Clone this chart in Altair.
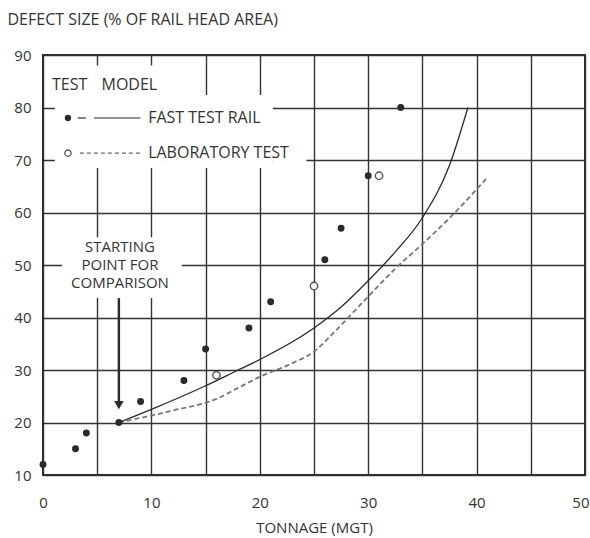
import altair as alt
import pandas as pd

FONT = "Open Sans"
INK = "#2a2a2a"

# Measured test points
fast_x = [0, 3, 4, 7, 9, 13, 15, 19, 21, 26, 27.5, 30, 33]
fast_y = [12, 15, 18, 20, 24, 28, 34, 38, 43, 51, 57, 67, 80]
lab_x = [16, 25, 31]
lab_y = [29, 46, 67]

# Model curves
fast_model_x = [7, 10, 15, 18, 20, 25, 27.5, 30, 32.5, 35, 37.5, 39.2]
fast_model_y = [20, 22.5, 27, 30, 32, 38, 42, 47, 52.5, 59, 69, 80]
lab_model_x = [7, 12, 16, 18, 20, 23, 25, 27, 30, 32.5, 35, 38, 41]
lab_model_y = [20, 22.3, 24.5, 26.6, 28.7, 31.3, 33.5, 37.5, 44, 49.3, 54, 60, 66.7]

x_ticks = list(range(0, 51, 5))
y_ticks = list(range(10, 91, 10))

fast_pts = pd.DataFrame({"x": fast_x, "y": fast_y})
lab_pts = pd.DataFrame({"x": lab_x, "y": lab_y})
fast_line = pd.DataFrame({"x": fast_model_x, "y": fast_model_y})
lab_line = pd.DataFrame({"x": lab_model_x, "y": lab_model_y})

xs = alt.Scale(domain=[0, 50], nice=False, zero=False)
ys = alt.Scale(domain=[10, 90], nice=False, zero=False)

X = alt.X("x:Q", scale=xs, axis=alt.Axis(
    values=x_ticks, labelExpr="datum.value % 10 == 0 ? datum.label : ''",
    tickSize=0, domain=False, grid=True, gridColor="#333", gridWidth=1.4,
    labelPadding=20, labelFontSize=15, labelFont=FONT, labelColor="#333",
    labelFlush=False,
    labelAlign={"condition": {"test": "datum.value == 50", "value": "right"}, "value": "center"},
    labelOffset={"condition": {"test": "datum.value == 50", "value": 4}, "value": 0},
    title="TONNAGE (MGT)", titleFont=FONT, titleFontSize=15,
    titleFontWeight="normal", titleColor="#333", titleY=52, titleBaseline="middle"))
Y = alt.Y("y:Q", scale=ys, axis=alt.Axis(
    values=y_ticks, tickSize=0, domain=False, grid=True, gridColor="#333",
    gridWidth=1.4, labelPadding=12, labelFontSize=15, labelFont=FONT,
    labelColor="#333", labelFlush=False,
    title="DEFECT SIZE  (% OF RAIL HEAD AREA)", titleAngle=0, titleAlign="left",
    titleBaseline="middle", titleX=-36, titleY=-36, titleFont=FONT,
    titleFontSize=16, titleFontWeight="normal", titleColor="#333"))

# White masks behind the legend and annotation text (gridlines broken there)
mask_x = [1.1, 11.0, 21.2, 1.75]
mask_x2 = [11.0, 21.2, 24.3, 12.8]
mask_y = [68.5, 68.5, 68.5, 43.7]
mask_y2 = [88.0, 82.4, 75.0, 55.3]
masks = pd.DataFrame({"x": mask_x, "x2": mask_x2, "y": mask_y, "y2": mask_y2})

mask_layer = alt.Chart(masks).mark_rect(fill="white", strokeWidth=0).encode(
    x=X, x2="x2:Q", y=Y, y2="y2:Q")

fast_model = alt.Chart(fast_line).mark_line(
    color=INK, strokeWidth=1.3, interpolate="monotone").encode(x=X, y=Y, order="x:Q")
lab_model = alt.Chart(lab_line).mark_line(
    color="#777", strokeWidth=1.8, strokeDash=[5, 3], interpolate="monotone").encode(
    x=X, y=Y, order="x:Q")

fast_dots = alt.Chart(fast_pts).mark_point(
    filled=True, shape="circle", size=48, color=INK, opacity=1).encode(x=X, y=Y)
lab_dots = alt.Chart(lab_pts).mark_point(
    filled=False, shape="circle", size=55, color="#555", fill="white",
    fillOpacity=1, strokeWidth=1.4, opacity=1).encode(x=X, y=Y)

# Legend (in data units)
leg_hdr = pd.DataFrame({"x": [0.83, 5.4], "y": [84.3, 84.3], "t": ["TEST", "MODEL"]})
leg_lbl = pd.DataFrame({"x": [9.7, 9.7], "y": [78.0, 71.3],
                        "t": ["FAST TEST RAIL", "LABORATORY TEST"]})
leg_fast_dot = pd.DataFrame({"x": [2.3], "y": [78.0]})
leg_lab_dot = pd.DataFrame({"x": [2.3], "y": [71.3]})
leg_solid = pd.DataFrame({"x": [3.2, 4.7], "x2": [3.95, 9.0], "y": [78.0, 78.0]})
leg_dash = pd.DataFrame({"x": [3.4], "x2": [9.0], "y": [71.3]})

txt = dict(font=FONT, fontSize=16, color="#333", align="left", baseline="middle")
hdr_layer = alt.Chart(leg_hdr).mark_text(**txt).encode(x=X, y=Y, text="t:N")
lbl_layer = alt.Chart(leg_lbl).mark_text(**txt).encode(x=X, y=Y, text="t:N")
lf_dot = alt.Chart(leg_fast_dot).mark_point(
    filled=True, shape="circle", size=40, color=INK, opacity=1).encode(x=X, y=Y)
ll_dot = alt.Chart(leg_lab_dot).mark_point(
    filled=False, shape="circle", size=40, color="#555", strokeWidth=1.3,
    opacity=1).encode(x=X, y=Y)
ls_rule = alt.Chart(leg_solid).mark_rule(color=INK, strokeWidth=1.2).encode(
    x=X, x2="x2:Q", y=Y)
ld_rule = alt.Chart(leg_dash).mark_rule(
    color="#666", strokeWidth=1.3, strokeDash=[4, 3]).encode(x=X, x2="x2:Q", y=Y)

# Annotation
ann = pd.DataFrame({"x": [7.1, 7.1, 7.1], "y": [53.5, 50.0, 46.5],
                    "t": ["STARTING", "POINT FOR", "COMPARISON"]})
ann_layer = alt.Chart(ann).mark_text(
    font=FONT, fontSize=15, color="#333", align="center", baseline="middle").encode(
    x=X, y=Y, text="t:N")
arrow_shaft = pd.DataFrame({"x": [7.0], "y": [43.7], "y2": [24.0]})
arrow_head = pd.DataFrame({"x": [7.0], "y": [23.3]})
shaft_layer = alt.Chart(arrow_shaft).mark_rule(color=INK, strokeWidth=2.4).encode(
    x=X, y=Y, y2="y2:Q")
head_layer = alt.Chart(arrow_head).mark_point(
    shape="triangle-down", filled=True, size=90, color=INK, opacity=1).encode(x=X, y=Y)

chart = alt.layer(
    mask_layer, lab_model, fast_model, fast_dots, lab_dots,
    hdr_layer, lbl_layer, lf_dot, ll_dot, ls_rule, ld_rule,
    ann_layer, shaft_layer, head_layer
).properties(
    width=542, height=420,
    autosize=alt.AutoSizeParams(type="none"),
    padding={"left": 43, "top": 55, "right": 5, "bottom": 63},
    background="white",
).configure_view(stroke=INK, strokeWidth=2)

chart.save("out.html", embed_options={"renderer": "svg", "actions": False})
